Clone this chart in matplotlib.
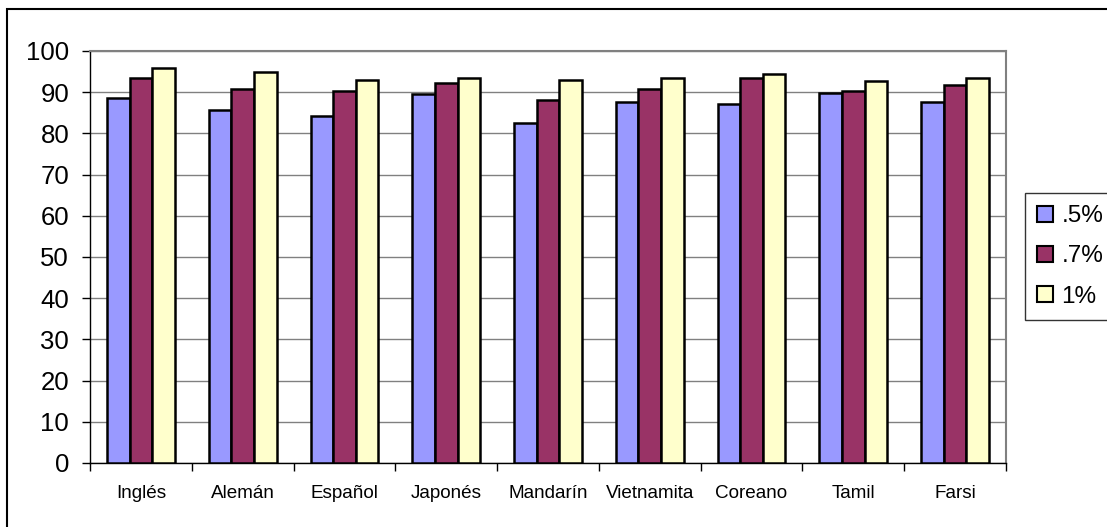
import matplotlib
matplotlib.use("Agg")
import matplotlib.pyplot as plt
import numpy as np
from matplotlib.patches import Rectangle

plt.rcParams['font.family'] = ['Liberation Sans', 'DejaVu Sans']

categories = ["Inglés", "Alemán", "Español", "Japonés", "Mandarín", "Vietnamita", "Coreano", "Tamil", "Farsi"]
series_names = [".5%", ".7%", "1%"]
s05 = [88.5, 85.8, 84.3, 89.5, 82.6, 87.6, 87.1, 89.9, 87.6]
s07 = [93.5, 90.8, 90.3, 92.2, 88.0, 90.8, 93.5, 90.4, 91.7]
s1 = [95.8, 94.9, 93.0, 93.5, 93.0, 93.5, 94.5, 92.6, 93.5]
colors = ["#9999FF", "#993366", "#FFFFCC"]

W, H = 1107, 527
fig = plt.figure(figsize=(W / 100, H / 100), dpi=100)
ax = fig.add_axes([90 / W, 1 - 463 / H, (1006 - 90) / W, (463 - 51) / H])

# outer chart border (only left/top visible in the crop)
fig.patches.append(Rectangle((7 / W, -0.2), 1.5, (H - 9) / H + 0.2, transform=fig.transFigure,
                             fill=False, edgecolor="black", linewidth=1.5))

x = np.arange(len(categories))
bw = 1 / 4.5
for i, (vals, name) in enumerate(zip([s05, s07, s1], series_names)):
    ax.bar(x + (i - 1) * bw, vals, width=bw, color=colors[i], edgecolor="black",
           linewidth=1.8, label=name, zorder=3)

ax.set_xlim(-0.5, len(categories) - 0.5)
ax.set_ylim(0, 100)
ax.set_yticks(np.arange(0, 101, 10))
ax.yaxis.grid(True, color="#808080", linewidth=1, zorder=0)
ax.set_axisbelow(True)

ax.set_xticks(np.arange(-0.5, len(categories), 1))
ax.set_xticklabels([])
ax.set_xticks(x, minor=True)
ax.set_xticklabels(categories, minor=True, fontsize=13.6)
ax.tick_params(axis="x", which="major", direction="out", length=6, width=1, color="black")
ax.tick_params(axis="x", which="minor", length=0, pad=16)
ax.tick_params(axis="y", direction="out", length=6, width=1, labelsize=18.5, pad=9)

for s in ["top", "right"]:
    ax.spines[s].set_color("#808080")
    ax.spines[s].set_linewidth(1.5)
for s in ["left", "bottom"]:
    ax.spines[s].set_color("black")
    ax.spines[s].set_linewidth(1)

leg = fig.legend(loc="upper left", bbox_to_anchor=(1025 / W, 1 - 193 / H), borderaxespad=0,
                 fontsize=17.5, frameon=True, fancybox=False, edgecolor="black",
                 handlelength=0.65, handleheight=0.65, handletextpad=0.35, labelspacing=0.75,
                 borderpad=0.5)
leg.get_frame().set_linewidth(1)
for p in leg.get_patches():
    p.set_linewidth(1.5)
    p.set_edgecolor("black")

fig.savefig("out.png", dpi=100)
